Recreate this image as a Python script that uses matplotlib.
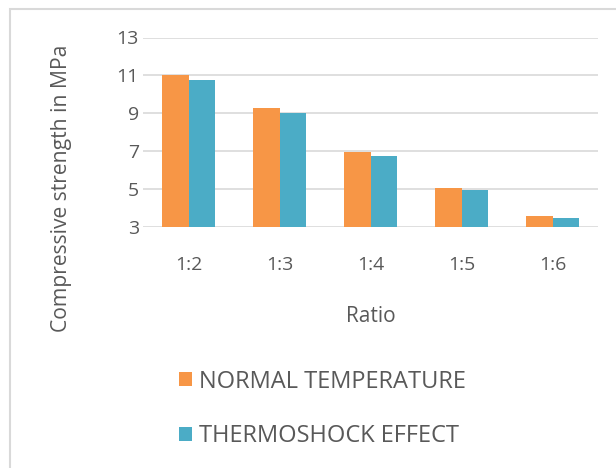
import matplotlib
matplotlib.use("Agg")
import matplotlib.pyplot as plt
from matplotlib.patches import Rectangle
import numpy as np

categories = ["1:2", "1:3", "1:4", "1:5", "1:6"]
normal = [11.0, 9.26, 6.95, 5.07, 3.56]
thermo = [10.76, 9.0, 6.77, 4.95, 3.49]
yticks = [3, 5, 7, 9, 11, 13]

plt.rcParams['font.family'] = ['Open Sans', 'DejaVu Sans']
txt = '#595959'

W, H = 616, 468
fig = plt.figure(figsize=(W/100, H/100), dpi=100)
ax = fig.add_axes([143/W, 1-227/H, (598-143)/W, (227-37.5)/H])

x = np.arange(len(categories))
bw = 0.29
ax.bar(x - bw/2, normal, bw, color='#F79646', label='NORMAL TEMPERATURE', zorder=3)
ax.bar(x + bw/2, thermo, bw, color='#4BACC6', label='THERMOSHOCK EFFECT', zorder=3)
ax.set_xlim(-0.5, len(categories)-0.5)
ax.set_ylim(3, 13)
ax.set_yticks(yticks)
ax.set_xticks(x)
ax.set_xticklabels(categories)
ax.grid(axis='y', color='#d9d9d9', linewidth=1.2, zorder=0)
for s in ax.spines.values():
    s.set_visible(False)
ax.tick_params(length=0, colors=txt, labelsize=14)
ax.tick_params(axis='y', pad=3)
ax.tick_params(axis='x', pad=21)
ax.set_xlabel('Ratio', color=txt, fontsize=15)
ax.xaxis.set_label_coords(0.5, -(316-227)/(227-37.5), transform=ax.transAxes)
ax.xaxis.label.set_va('center')
ax.set_ylabel('Compressive strength in MPa', color=txt, fontsize=15.2)
ax.yaxis.label.set_va('center')
ax.yaxis.label.set_ha('center')
ax.yaxis.set_label_coords((62-143)/(598-143), (227-188)/(227-37.5), transform=ax.transAxes)

leg = fig.legend(loc='center left', bbox_to_anchor=(179/W, 1-409/H), frameon=False,
                 fontsize=17, labelcolor=txt, handlelength=0.55, handleheight=0.55,
                 handletextpad=0.3, labelspacing=1.3, borderpad=0, borderaxespad=0)

fig.patches.append(Rectangle((10/W, -0.1), 1.2, 1-9/H+0.1, transform=fig.transFigure,
                             fill=False, edgecolor='#d9d9d9', linewidth=1.5))
fig.savefig('out.png', dpi=100)
